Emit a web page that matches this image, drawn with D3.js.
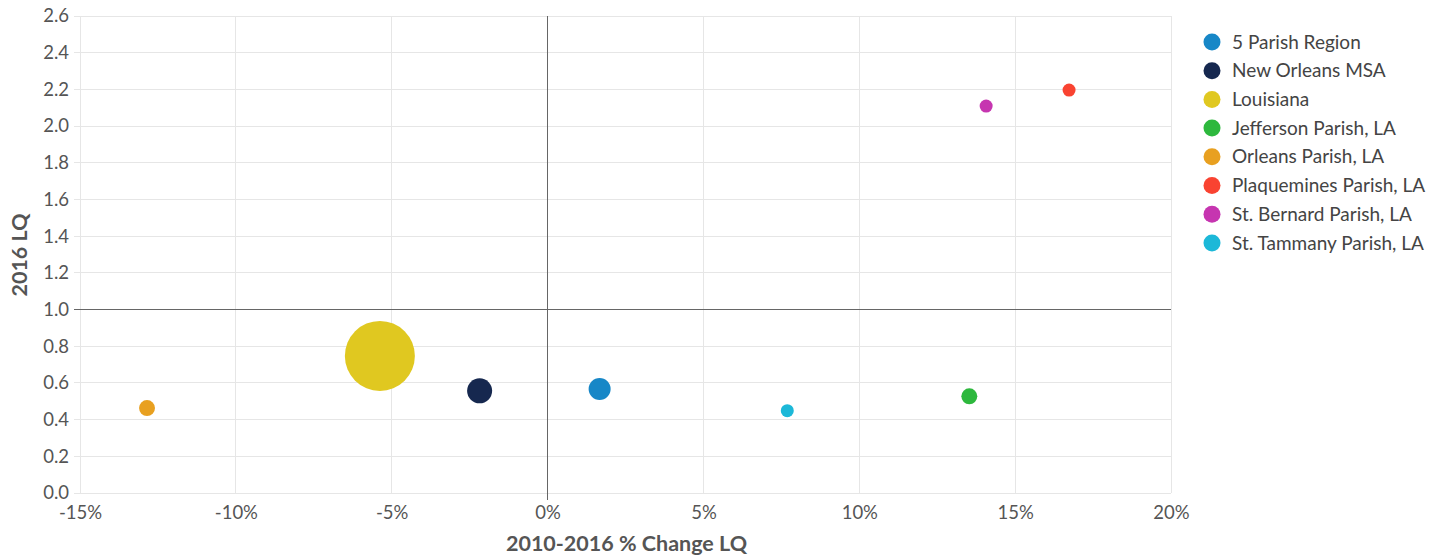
<!DOCTYPE html>
<html><head><meta charset="utf-8">
<script src="https://cdn.jsdelivr.net/npm/d3@7"></script>
<style>
body{margin:0;background:#fff;font-family:Lato,"Open Sans",sans-serif;}
</style></head>
<body><svg id="c" width="1442" height="560"></svg>
<script>
const names = ["5 Parish Region","New Orleans MSA","Louisiana","Jefferson Parish, LA","Orleans Parish, LA","Plaquemines Parish, LA","St. Bernard Parish, LA","St. Tammany Parish, LA"];
const pctChange = [1.67, -2.18, -5.38, 13.53, -12.85, 16.73, 14.07, 7.69];
const lq2016 = [0.567, 0.557, 0.747, 0.527, 0.463, 2.196, 2.109, 0.449];
const sizeValues = [9.9, 12.8, 100, 5.2, 5.2, 3.4, 3.4, 3.4];
const colors = ["#1787c7","#16284f","#e0c820","#2db83d","#e8a020","#f94331","#c635b0","#1cb8d8"];
const xTicks = [-15,-10,-5,0,5,10,15,20];
const yTicks = [0,0.2,0.4,0.6,0.8,1.0,1.2,1.4,1.6,1.8,2.0,2.2,2.4,2.6];

const svg = d3.select("#c");
const L=80,R=1171,T=16,B=493;
const x = d3.scaleLinear().domain([-15,20]).range([L,R]);
const y = d3.scaleLinear().domain([0,2.6]).range([B,T]);
const r = d3.scaleSqrt().domain([0,100]).range([0,35]);

const g = svg.append("g");
g.selectAll(".hg").data(yTicks).join("line")
 .attr("x1",L-6).attr("x2",R).attr("y1",d=>y(d)).attr("y2",d=>y(d))
 .attr("stroke","#e6e6e6").attr("stroke-width",1).attr("shape-rendering","crispEdges");
g.selectAll(".vg").data(xTicks).join("line")
 .attr("x1",d=>x(d)).attr("x2",d=>x(d)).attr("y1",T).attr("y2",B)
 .attr("stroke","#e6e6e6").attr("stroke-width",1).attr("shape-rendering","crispEdges");
g.append("line").attr("x1",L-6).attr("x2",R).attr("y1",y(1)).attr("y2",y(1))
 .attr("stroke","#666").attr("stroke-width",1).attr("shape-rendering","crispEdges");
g.append("line").attr("x1",x(0)).attr("x2",x(0)).attr("y1",T).attr("y2",B+7)
 .attr("stroke","#666").attr("stroke-width",1).attr("shape-rendering","crispEdges");

const yAxis = d3.axisLeft(y).tickValues(yTicks).tickFormat(d3.format(".1f")).tickSize(0).tickPadding(11);
const ya = svg.append("g").attr("transform",`translate(${L},0)`).call(yAxis);
ya.select(".domain").remove();
ya.selectAll("text").attr("font-family","Lato").attr("font-size",18.5).attr("fill","#555");
const xAxis = d3.axisBottom(x).tickValues(xTicks).tickFormat(d=>d+"%").tickSize(0).tickPadding(13);
const xa = svg.append("g").attr("transform",`translate(0,${B})`).call(xAxis);
xa.select(".domain").remove();
xa.selectAll("text").attr("font-family","Lato").attr("font-size",18.5).attr("fill","#555");

svg.append("text").attr("x",(L+R)/2+1).attr("y",551).attr("text-anchor","middle")
 .attr("font-family","Lato").attr("font-weight","bold").attr("font-size",21.5).attr("fill","#555")
 .text("2010-2016 % Change LQ");
svg.append("text").attr("transform",`translate(27,255) rotate(-90)`).attr("text-anchor","middle")
 .attr("font-family","Lato").attr("font-weight","bold").attr("font-size",21.5).attr("fill","#555")
 .text("2016 LQ");

const data = names.map((n,i)=>({n,x:pctChange[i],y:lq2016[i],s:sizeValues[i],c:colors[i]}));
svg.append("g").selectAll("circle").data(data.slice().sort((a,b)=>b.s-a.s)).join("circle")
 .attr("cx",d=>x(d.x)).attr("cy",d=>y(d.y)).attr("r",d=>Math.max(6.5,r(d.s)))
 .attr("fill",d=>d.c);

const lg = svg.append("g").selectAll("g").data(data).join("g")
 .attr("transform",(d,i)=>`translate(1212,${42+i*28.7})`);
lg.append("circle").attr("r",8.5).attr("fill",d=>d.c);
lg.append("text").attr("x",20).attr("dy","0.35em").attr("font-family","Lato").attr("font-size",19)
 .attr("fill","#444").text(d=>d.n);
</script></body></html>
